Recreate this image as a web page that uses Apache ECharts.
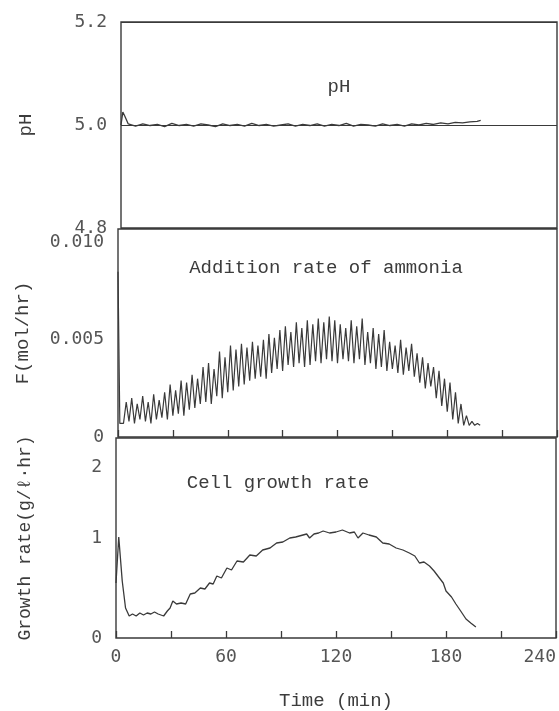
<!DOCTYPE html>
<html>
<head>
<meta charset="utf-8">
<script src="https://cdn.jsdelivr.net/npm/echarts@6/dist/echarts.min.js"></script>
<style>
  html, body { margin: 0; padding: 0; background: #fff; }
  #chart { width: 559px; height: 711px; }
</style>
</head>
<body>
<div id="chart"></div>
<script>
  // time ticks (min)
  const timeLabels = [0, 60, 120, 180, 240]

  // pH
  const phTime = [0, 1, 2, 4, 8, 12, 16, 20, 24, 28, 32, 36, 40, 44, 48, 52, 56, 60, 64, 68, 72, 76,
    80, 84, 88, 92, 96, 100, 104, 108, 112, 116, 120, 124, 128, 132, 136, 140, 144, 148, 152, 156,
    160, 164, 168, 172, 176, 180, 184, 188, 192, 196, 198]
  const phValue = [5.000, 5.025, 5.018, 5.002,
    4.998, 5.002, 4.999, 5.001, 4.997, 5.003, 4.999, 5.001, 4.998, 5.002,
    5.000, 4.997, 5.002, 4.999, 5.001, 4.998, 5.003, 4.999, 5.001, 4.998,
    5.000, 5.002, 4.998, 5.001, 4.999, 5.002, 4.998, 5.001, 4.999, 5.003,
    4.998, 5.001, 5.000, 4.998, 5.002, 4.999, 5.001, 4.998, 5.002, 5.000,
    5.003, 5.001, 5.004, 5.002, 5.005, 5.004, 5.006, 5.007,
    5.009]

  // addition rate of ammonia (mol/hr): start, then pump samples every 1.5 min from 4.5 min
  const ammoniaStartTime = [0, 1, 3]
  const ammoniaStartValue = [0.0085, 0.0007, 0.0007]
  const ammoniaT0 = 4.5
  const ammoniaDt = 1.5
  const ammoniaValue = [
    0.0018, 0.0008, 0.0020, 0.0007, 0.0017, 0.0009, 0.0021, 0.0008, 0.0018, 0.0007,
    0.0022, 0.0009, 0.0019, 0.0010, 0.0023, 0.0009, 0.0027, 0.0011, 0.0024, 0.0012,
    0.0029, 0.0011, 0.0028, 0.0014, 0.0032, 0.0015, 0.0030, 0.0017, 0.0036, 0.0018,
    0.0038, 0.0017, 0.0035, 0.0021, 0.0044, 0.0020, 0.0041, 0.0023, 0.0047, 0.0024,
    0.0045, 0.0026, 0.0048, 0.0027, 0.0046, 0.0029, 0.0049, 0.0030, 0.0047, 0.0031,
    0.0050, 0.0030, 0.0053, 0.0033, 0.0051, 0.0035, 0.0055, 0.0034, 0.0057, 0.0037,
    0.0054, 0.0036, 0.0059, 0.0038, 0.0056, 0.0036, 0.0060, 0.0037, 0.0058, 0.0039,
    0.0061, 0.0038, 0.0059, 0.0040, 0.0062, 0.0039, 0.0060, 0.0038, 0.0058, 0.0040,
    0.0056, 0.0039, 0.0060, 0.0038, 0.0057, 0.0040, 0.0061, 0.0037, 0.0054, 0.0038,
    0.0056, 0.0035, 0.0053, 0.0036, 0.0055, 0.0034, 0.0049, 0.0035, 0.0047, 0.0033,
    0.0050, 0.0032, 0.0046, 0.0034, 0.0048, 0.0031, 0.0043, 0.0028, 0.0041, 0.0025,
    0.0038, 0.0026, 0.0036, 0.0020, 0.0034, 0.0016, 0.0030, 0.0013, 0.0028, 0.0009,
    0.0023, 0.0007, 0.0017, 0.0006, 0.0011, 0.0006, 0.0008, 0.0006, 0.0007, 0.0006]

  // cell growth rate (g/l.hr)
  const growthTime = [0, 1.5, 3.4, 5.2, 7.2, 9, 11, 13, 15, 17, 19, 21, 23, 26, 28, 29.5, 31, 33,
    35.5, 38, 40.5, 43, 46, 48.5, 51, 53, 55, 57.5, 60.5, 63, 66, 69.5, 73, 76.5, 80, 84, 87.6, 91,
    94.8, 98, 102, 104, 105.6, 108, 110.5, 113, 116.5, 120, 123.5, 127.4, 130, 132, 134.7, 138, 142,
    145.5, 149, 152.8, 156.5, 160, 163, 165.5, 168, 171, 173.5, 176.4, 178.5, 180, 183, 185.4, 188,
    190.9, 193.5, 196.3]
  const growthRate = [0.55, 1.01, 0.57, 0.30, 0.22, 0.24, 0.22, 0.25, 0.23, 0.25, 0.24, 0.26, 0.24,
    0.22, 0.27, 0.30, 0.37, 0.34, 0.35, 0.34, 0.44, 0.45, 0.50, 0.49, 0.55, 0.54, 0.62, 0.60, 0.70,
    0.68, 0.77, 0.76, 0.83, 0.82, 0.88, 0.90, 0.95, 0.96, 1.00, 1.01, 1.03, 1.04, 1.00, 1.04, 1.05,
    1.07, 1.05, 1.06, 1.08, 1.05, 1.06, 1.00, 1.05, 1.03, 1.01, 0.95, 0.94, 0.90, 0.88, 0.85, 0.82,
    0.75, 0.76, 0.72, 0.67, 0.60, 0.55, 0.47, 0.41, 0.34, 0.27, 0.19, 0.15, 0.11]

  const ink = '#3a3a3a'
  const textInk = '#3c3c3c'
  const mono = '"Liberation Mono", "DejaVu Sans Mono", monospace'
  const numFont = '"DejaVu Sans Mono", monospace'

  const phData = phTime.map((t, i) => [t, phValue[i]])
  const ammoniaData = ammoniaStartTime.map((t, i) => [t, ammoniaStartValue[i]])
    .concat(ammoniaValue.map((v, i) => [ammoniaT0 + i * ammoniaDt, v]))
  const growthData = growthTime.map((t, i) => [t, growthRate[i]])

  const chart = echarts.init(document.getElementById('chart'))

  const xBase = (idx, showLabel, showTick) => ({
    type: 'value',
    gridIndex: idx,
    min: 0,
    max: 240,
    interval: 30,
    axisLine: { show: false },
    splitLine: { show: false },
    axisTick: { show: showTick, inside: true, length: 7, lineStyle: { color: ink, width: 1.3 } },
    axisLabel: {
      show: showLabel,
      margin: 10,
      color: '#555',
      fontFamily: numFont,
      fontSize: 18,
      alignMaxLabel: 'right',
      formatter: v => (timeLabels.includes(v) ? String(v) : '')
    }
  })

  const yLabel = {
    color: '#555',
    fontFamily: numFont,
    fontSize: 18,
    margin: 14
  }
  const yName = {
    color: textInk,
    fontFamily: mono,
    fontSize: 19
  }

  chart.setOption({
    animation: false,
    backgroundColor: '#fff',
    grid: [
      { left: 121, top: 22, width: 436, height: 206, show: true, borderColor: ink, borderWidth: 1.4 },
      { left: 118, top: 229, width: 439, height: 208, show: true, borderColor: ink, borderWidth: 1.4 },
      { left: 116, top: 438, width: 441, height: 201, show: true, borderColor: ink, borderWidth: 1.4 }
    ],
    xAxis: [
      xBase(0, false, false),
      xBase(1, false, true),
      Object.assign(xBase(2, true, true), {
        name: 'Time (min)',
        nameLocation: 'middle',
        nameGap: 53,
        nameTextStyle: { color: textInk, fontFamily: mono, fontSize: 19 }
      })
    ],
    yAxis: [
      {
        type: 'value', gridIndex: 0, min: 4.8, max: 5.2, interval: 0.2,
        name: 'pH', nameLocation: 'middle', nameGap: 86, nameTextStyle: yName,
        axisLine: { show: false }, axisTick: { show: false },
        splitLine: { show: true, lineStyle: { color: ink, width: 1.2 } },
        axisLabel: Object.assign({}, yLabel, { formatter: v => v.toFixed(1) })
      },
      {
        type: 'value', gridIndex: 1, min: 0, max: 0.0107, interval: 0.005,
        name: 'F(mol/hr)', nameLocation: 'middle', nameGap: 86, nameTextStyle: yName,
        axisLine: { show: false }, axisTick: { show: false }, splitLine: { show: false },
        axisLabel: Object.assign({}, yLabel, {
          showMaxLabel: false,
          formatter: v => (v === 0 ? '0' : v.toFixed(3))
        })
      },
      {
        type: 'value', gridIndex: 2, min: 0, max: 2, interval: 1,
        name: 'Growth rate(g/ℓ·hr)', nameLocation: 'middle', nameGap: 82,
        nameTextStyle: Object.assign({}, yName, { fontSize: 18 }),
        axisLine: { show: false }, axisTick: { show: false }, splitLine: { show: false },
        axisLabel: Object.assign({}, yLabel, {
          formatter: v => (v === 2 ? '{low|2}' : String(v)),
          rich: { low: { padding: [58, 0, 0, 0], color: '#555', fontFamily: numFont, fontSize: 18 } }
        })
      }
    ],
    graphic: [
      { type: 'text', x: 339, y: 87, style: { text: 'pH', font: '19px ' + mono, fill: textInk, align: 'center', verticalAlign: 'middle' } },
      { type: 'text', x: 326, y: 268, style: { text: 'Addition rate of ammonia', font: '19px ' + mono, fill: textInk, align: 'center', verticalAlign: 'middle' } },
      { type: 'text', x: 278, y: 483, style: { text: 'Cell growth rate', font: '19px ' + mono, fill: textInk, align: 'center', verticalAlign: 'middle' } }
    ],
    series: [
      {
        type: 'line', xAxisIndex: 0, yAxisIndex: 0, data: phData, symbol: 'none',
        lineStyle: { color: ink, width: 1.3 }
      },
      {
        type: 'line', xAxisIndex: 1, yAxisIndex: 1, data: ammoniaData, symbol: 'none',
        lineStyle: { color: ink, width: 1.2 }
      },
      {
        type: 'line', xAxisIndex: 2, yAxisIndex: 2, data: growthData, symbol: 'none',
        lineStyle: { color: ink, width: 1.3 }
      }
    ]
  })
</script>
</body>
</html>
